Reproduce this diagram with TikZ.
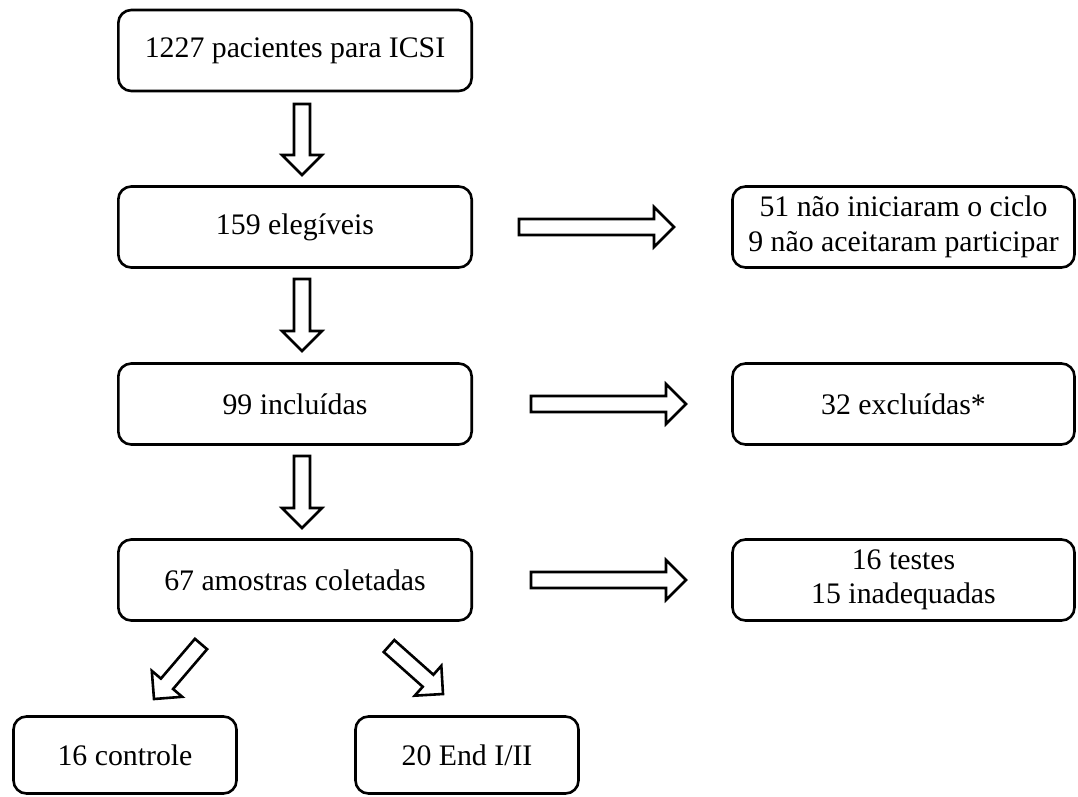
\documentclass[tikz,border=0pt]{standalone}
\usepackage{fontspec}
\setmainfont{Liberation Serif}
\usetikzlibrary{calc}
\newcommand{\myblockarrow}[2]{%
  \draw[barrowstyle] ($(#1)!8pt!90:(#2)$) -- ($(#2)!20pt!(#1)!8pt!-90:(#1)$)
    -- ($(#2)!20pt!(#1)!20pt!-90:(#1)$) -- (#2)
    -- ($(#2)!20pt!(#1)!20pt!90:(#1)$) -- ($(#2)!20pt!(#1)!8pt!90:(#1)$)
    -- ($(#1)!8pt!-90:(#2)$) -- cycle;}
\begin{document}
\begin{tikzpicture}[x=1pt,y=-1pt,
  box/.style={draw, line width=2.6pt, rounded corners=13pt, align=center, inner sep=0pt,
    font=\fontsize{29.8}{34.5}\selectfont},
  leftbox/.style={box, minimum width=353.4pt, minimum height=81pt},
  rightbox/.style={box, minimum width=342pt, minimum height=81pt},
  bottombox/.style={box, minimum width=223pt, minimum height=77pt},
  barrowstyle/.style={draw, line width=2.6pt, fill=white, line join=miter}]
\useasboundingbox (0,0) rectangle (1078,796);

\node[leftbox] (b1) at (295,50.5) {1227 pacientes para ICSI};
\node[leftbox] (b2) at (295,227) {159 elegíveis};
\node[leftbox] (b3) at (295,404) {99 incluídas};
\node[leftbox] (b4) at (295,580) {67 amostras coletadas};

\node[rightbox] (r1) at (903.5,227) {51 não iniciaram o ciclo\\9 não aceitaram participar};
\node[rightbox] (r2) at (903.5,404) {32 excluídas*};
\node[rightbox] (r3) at (903.5,580) {16 testes\\15 inadequadas};

\node[bottombox] (c1) at (125,755) {16 controle};
\node[bottombox] (c2) at (467,755) {20 End I/II};

\coordinate (a1s) at (302,104);
\coordinate (a1t) at (302,175);
\coordinate (a2s) at (302,279);
\coordinate (a2t) at (302,351);
\coordinate (a3s) at (302,456);
\coordinate (a3t) at (302,528);
\coordinate (h1s) at (519,227);
\coordinate (h1t) at (674,227);
\coordinate (h2s) at (531,404);
\coordinate (h2t) at (686,404);
\coordinate (h3s) at (531,580);
\coordinate (h3t) at (686,580);
\coordinate (d1s) at (201,644);
\coordinate (d1t) at (154,699);
\coordinate (d2s) at (389,646);
\coordinate (d2t) at (443,694);

\myblockarrow{a1s}{a1t}
\myblockarrow{a2s}{a2t}
\myblockarrow{a3s}{a3t}
\myblockarrow{h1s}{h1t}
\myblockarrow{h2s}{h2t}
\myblockarrow{h3s}{h3t}
\myblockarrow{d1s}{d1t}
\myblockarrow{d2s}{d2t}
\end{tikzpicture}
\end{document}
